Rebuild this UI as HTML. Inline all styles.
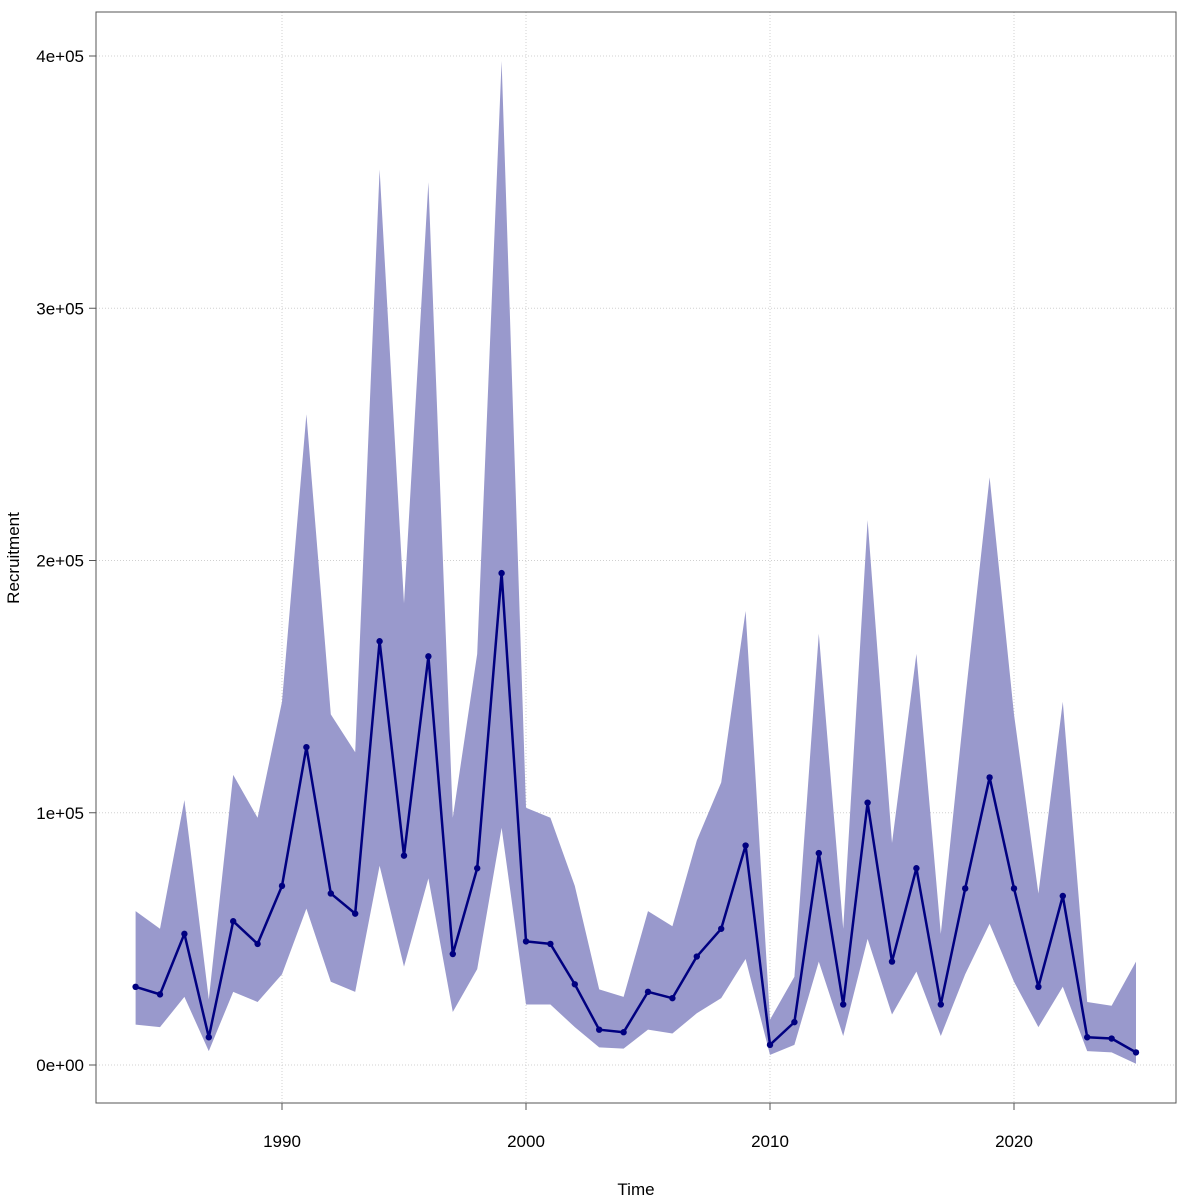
<!DOCTYPE html>
<html><head><meta charset="utf-8"><style>body{margin:0;background:#fff}svg{display:block;font-family:"Liberation Sans",sans-serif}</style></head>
<body>
<svg id="chart" width="1200" height="1200" viewBox="0 0 1200 1200"></svg>
<script>
const years=[1984,1985,1986,1987,1988,1989,1990,1991,1992,1993,1994,1995,1996,1997,1998,1999,2000,2001,2002,2003,2004,2005,2006,2007,2008,2009,2010,2011,2012,2013,2014,2015,2016,2017,2018,2019,2020,2021,2022,2023,2024,2025];
const recruitment=[31,28,52,11,57,48,71,126,68,60,168,83,162,44,78,195,49,48,32,14,13,29,26.5,43,54,87,8,17,84,24,104,41,78,24,70,114,70,31,67,11,10.5,5];
const upper=[61,54,105,26,115,98,144,258,139,124,355,183,350,98,163,398,102,98,71,30,27,61,55,89,112,180,18,35,171,54,216,88,163,52,145,233,139,68,144,25,23.5,41];
const lower=[16,15,27,5.5,29,25,36,62,33,29,79,39,74,21,38,94,24,24,15,7,6.5,14,12.5,20.5,26.5,42,4,8,41,11.5,50,20,37,11.5,36,56,33,15,31,5.5,5,0.5];
const yTicks=[0,100,200,300,400];
const yTickLabels=["0e+00","1e+05","2e+05","3e+05","4e+05"];
const xTicks=[1990,2000,2010,2020];
const NS="http://www.w3.org/2000/svg";
const svg=document.getElementById('chart');
const X=v=>282+(v-1990)*24.4;
const Y=v=>1065-v*2.5225;
function mk(t,a,p){const e=document.createElementNS(NS,t);for(const k in a)e.setAttribute(k,a[k]);(p||svg).appendChild(e);return e;}
xTicks.forEach(t=>{const l=mk('line',{x1:X(t),x2:X(t),y1:12,y2:1103,stroke:'#d0d0d0','stroke-dasharray':'1,2'});

});
yTicks.forEach(t=>{const l=mk('line',{x1:96,x2:1176,y1:Y(t),y2:Y(t),stroke:'#d0d0d0','stroke-dasharray':'1,2'});

});
let pts=years.map((y,i)=>X(y)+','+Y(upper[i]));
for(let i=years.length-1;i>=0;i--)pts.push(X(years[i])+','+Y(lower[i]));
const band=mk('polygon',{points:pts.join(' '),fill:'#9999cc'});


const line=mk('polyline',{points:years.map((y,i)=>X(y)+','+Y(recruitment[i])).join(' '),fill:'none',stroke:'#000080','stroke-width':2.5,'stroke-linejoin':'round'});


years.forEach((y,i)=>{const c=mk('circle',{cx:X(y),cy:Y(recruitment[i]),r:3.2,fill:'#000080'});

});
const box=mk('rect',{x:96,y:12,width:1080,height:1091,fill:'none',stroke:'#555','stroke-width':1});


xTicks.forEach(t=>{mk('line',{x1:X(t),x2:X(t),y1:1103,y2:1110,stroke:'#555'});
const tx=mk('text',{x:X(t),y:1147,'text-anchor':'middle','font-size':17,fill:'#000'});tx.textContent=t;

});
yTicks.forEach((t,i)=>{mk('line',{x1:89,x2:96,y1:Y(t),y2:Y(t),stroke:'#555'});
const tx=mk('text',{x:84,y:Y(t)+6,'text-anchor':'end','font-size':17,fill:'#000'});tx.textContent=yTickLabels[i];

});
const xt=mk('text',{x:636,y:1195,'text-anchor':'middle','font-size':17});xt.textContent='Time';


const yt=mk('text',{x:19,y:558,'text-anchor':'middle','font-size':17,transform:'rotate(-90 19 558)'});yt.textContent='Recruitment';


</script>
</body></html>
